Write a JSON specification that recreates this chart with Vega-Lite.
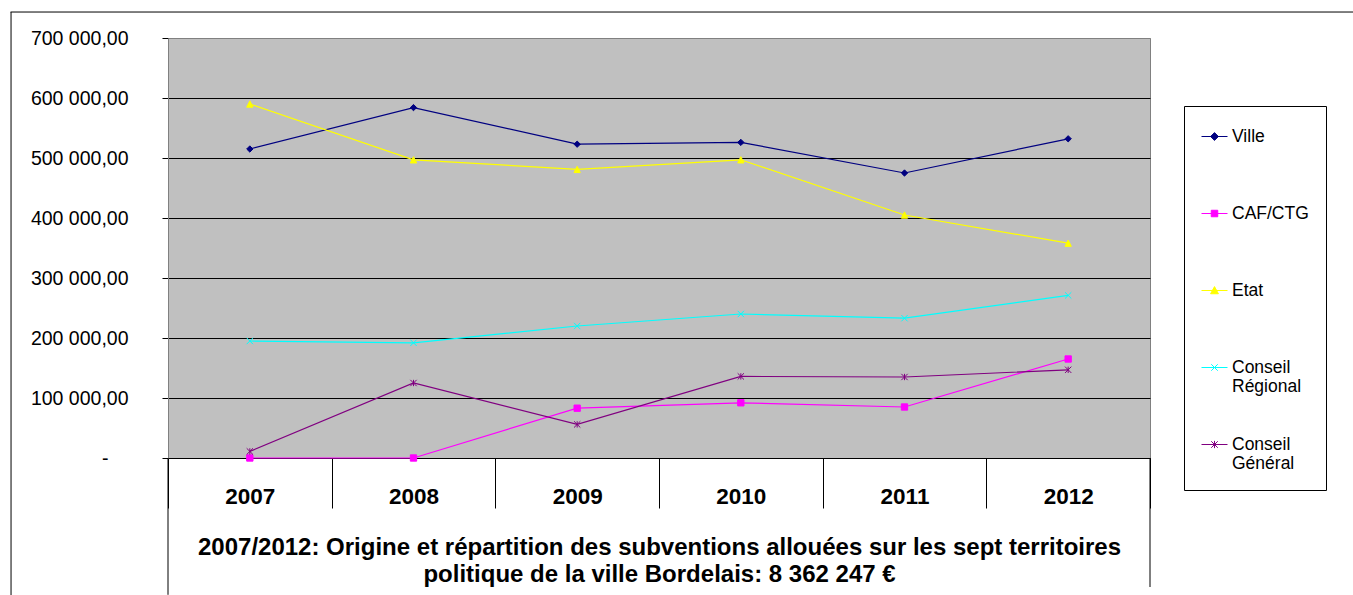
{
  "$schema": "https://vega.github.io/schema/vega-lite/v6.json",
  "width": 982,
  "height": 420,
  "autosize": {"type": "none"},
  "padding": {"left": 168, "top": 38, "right": 203, "bottom": 137},
  "background": "white",
  "config": {
    "font": "Liberation Sans",
    "view": {"fill": "#C0C0C0", "stroke": "#808080", "strokeWidth": 1}
  },
  "data": {
    "values": [
      {"year": "2007", "series": "Ville", "value": 515000},
      {"year": "2008", "series": "Ville", "value": 584000},
      {"year": "2009", "series": "Ville", "value": 523000},
      {"year": "2010", "series": "Ville", "value": 526000},
      {"year": "2011", "series": "Ville", "value": 475000},
      {"year": "2012", "series": "Ville", "value": 532000},
      {"year": "2007", "series": "CAF/CTG", "value": 0},
      {"year": "2008", "series": "CAF/CTG", "value": 0},
      {"year": "2009", "series": "CAF/CTG", "value": 83000},
      {"year": "2010", "series": "CAF/CTG", "value": 92000},
      {"year": "2011", "series": "CAF/CTG", "value": 85000},
      {"year": "2012", "series": "CAF/CTG", "value": 165000},
      {"year": "2007", "series": "Etat", "value": 590000},
      {"year": "2008", "series": "Etat", "value": 497000},
      {"year": "2009", "series": "Etat", "value": 481000},
      {"year": "2010", "series": "Etat", "value": 497000},
      {"year": "2011", "series": "Etat", "value": 405000},
      {"year": "2012", "series": "Etat", "value": 358000},
      {"year": "2007", "series": "Conseil Régional", "value": 195000},
      {"year": "2008", "series": "Conseil Régional", "value": 192000},
      {"year": "2009", "series": "Conseil Régional", "value": 220000},
      {"year": "2010", "series": "Conseil Régional", "value": 240000},
      {"year": "2011", "series": "Conseil Régional", "value": 233000},
      {"year": "2012", "series": "Conseil Régional", "value": 271000},
      {"year": "2007", "series": "Conseil Général", "value": 11000},
      {"year": "2008", "series": "Conseil Général", "value": 125000},
      {"year": "2009", "series": "Conseil Général", "value": 56000},
      {"year": "2010", "series": "Conseil Général", "value": 136000},
      {"year": "2011", "series": "Conseil Général", "value": 135000},
      {"year": "2012", "series": "Conseil Général", "value": 147000}
    ]
  },
  "layer": [
    {
      "mark": {"type": "line", "strokeWidth": 1.2},
      "encoding": {
        "x": {
          "field": "year", "type": "ordinal", "bandPosition": 0.5,
          "scale": {"type": "band", "paddingInner": 0, "paddingOuter": 0},
          "axis": {
            "title": ["2007/2012: Origine et répartition des subventions allouées sur les sept territoires", "politique de la ville Bordelais: 8 362 247 €"],
            "titleFontSize": 24, "titleFontWeight": "bold", "titleColor": "black",
            "titlePadding": 27, "titleLineHeight": 27,
            "labelFontSize": 22.5, "labelFontWeight": "bold", "labelColor": "black",
            "labelPadding": -23, "labelAngle": 0,
            "tickBand": "extent", "tickSize": 50, "tickColor": "black",
            "domainColor": "black", "grid": false
          }
        },
        "y": {
          "field": "value", "type": "quantitative",
          "scale": {"domain": [0, 700000], "nice": false},
          "axis": {
            "title": null,
            "values": [0, 100000, 200000, 300000, 400000, 500000, 600000, 700000],
            "labelExpr": "datum.value == 0 ? '-' : format(datum.value/1000, 'd') + ' 000,00'",
            "labelFontSize": 19.5, "labelColor": "black",
            "labelPadding": {"condition": {"test": "datum.value == 0", "value": 54}, "value": 34},
            "tickSize": 6, "tickColor": "black",
            "grid": true,
            "gridColor": {"condition": {"test": "datum.value == 700000", "value": "#808080"}, "value": "black"},
            "gridOpacity": 1,
            "domainColor": "#808080"
          }
        },
        "color": {
          "field": "series", "type": "nominal",
          "scale": {
            "domain": ["Ville", "CAF/CTG", "Etat", "Conseil Régional", "Conseil Général"],
            "range": ["#000080", "#FF00FF", "#FFFF00", "#00FFFF", "#800080"]
          },
          "legend": {
            "orient": "none", "legendX": 1016, "legendY": 68,
            "title": null, "strokeColor": "black", "fillColor": "white",
            "padding": 17, "labelFontSize": 17.5, "labelColor": "black",
            "labelOffset": 4, "symbolSize": 676, "rowPadding": 35,
            "symbolOpacity": 1, "symbolStrokeWidth": 1,
            "gridAlign": "all", "labelLimit": 300,
            "labelExpr": "split(datum.label, ' ')"
          }
        }
      }
    },
    {
      "mark": {"type": "point", "filled": true, "size": 40, "opacity": 1, "strokeWidth": 1},
      "encoding": {
        "x": {"field": "year", "type": "ordinal", "bandPosition": 0.5},
        "y": {"field": "value", "type": "quantitative"},
        "color": {"field": "series", "type": "nominal"},
        "stroke": {
          "field": "series", "type": "nominal", "legend": null,
          "scale": {
            "domain": ["Ville", "CAF/CTG", "Etat", "Conseil Régional", "Conseil Général"],
            "range": ["#000080", "#FF00FF", "#FFFF00", "#00FFFF", "#800080"]
          }
        },
        "shape": {
          "condition": [
            {"test": "datum.series == 'Ville'", "value": "M0,-1L1,0L0,1L-1,0Z"},
            {"test": "datum.series == 'CAF/CTG'", "value": "M-1,-1L1,-1L1,1L-1,1Z"},
            {"test": "datum.series == 'Etat'", "value": "M0,-1L1,1L-1,1Z"},
            {"test": "datum.series == 'Conseil Régional'", "value": "M-1,-1L1,1M-1,1L1,-1"}
          ],
          "value": "M-1,-1L1,1M-1,1L1,-1M0,-1L0,1"
        }
      }
    },
    {
      "transform": [{"filter": "datum.value < 0"}],
      "mark": {"type": "point", "filled": true, "strokeWidth": 1},
      "encoding": {
        "x": {"field": "year", "type": "ordinal", "bandPosition": 0.5},
        "y": {"field": "value", "type": "quantitative"},
        "color": {"field": "series", "type": "nominal"},
        "shape": {
          "field": "series", "type": "nominal",
          "scale": {
            "domain": ["Ville", "CAF/CTG", "Etat", "Conseil Régional", "Conseil Général"],
            "range": [
              "M-1,0L1,0M0,-0.3L0.3,0L0,0.3L-0.3,0Z",
              "M-1,0L1,0M-0.25,-0.25L0.25,-0.25L0.25,0.25L-0.25,0.25Z",
              "M-1,0L1,0M0,-0.3L0.3,0.25L-0.3,0.25Z",
              "M-1,0L1,0M-0.25,-0.25L0.25,0.25M-0.25,0.25L0.25,-0.25",
              "M-1,0L1,0M-0.25,-0.25L0.25,0.25M-0.25,0.25L0.25,-0.25M0,-0.28L0,0.28"
            ]
          },
          "legend": {
            "orient": "none", "legendX": 1016, "legendY": 68,
            "title": null, "strokeColor": "black", "fillColor": "white",
            "padding": 17, "labelFontSize": 17.5, "labelColor": "black",
            "labelOffset": 4, "symbolSize": 676, "rowPadding": 35,
            "symbolOpacity": 1, "symbolStrokeWidth": 1,
            "gridAlign": "all", "labelLimit": 300,
            "labelExpr": "split(datum.label, ' ')"
          }
        }
      }
    },
    {
      "data": {"values": [{"year": "2007", "top": 0, "bottom": -228000}]},
      "mark": {"type": "rule", "color": "black", "strokeWidth": 1},
      "encoding": {
        "x": {"field": "year", "type": "ordinal", "bandPosition": 0},
        "y": {"field": "top", "type": "quantitative"},
        "y2": {"field": "bottom"}
      }
    },
    {
      "data": {"values": [{"year": "2012", "top": 0, "bottom": -215000}]},
      "mark": {"type": "rule", "color": "black", "strokeWidth": 1},
      "encoding": {
        "x": {"field": "year", "type": "ordinal", "bandPosition": 1},
        "y": {"field": "top", "type": "quantitative"},
        "y2": {"field": "bottom"}
      }
    },
    {
      "data": {"values": [{"year": "2007", "top": 743300, "bottom": -230000}]},
      "mark": {"type": "rule", "color": "black", "strokeWidth": 1},
      "encoding": {
        "x": {"field": "year", "type": "ordinal", "bandPosition": -0.959},
        "y": {"field": "top", "type": "quantitative"},
        "y2": {"field": "bottom"}
      }
    },
    {
      "data": {"values": [{"from": "2007", "to": "2012", "level": 743300}]},
      "mark": {"type": "rule", "color": "black", "strokeWidth": 1},
      "encoding": {
        "x": {"field": "from", "type": "ordinal", "bandPosition": -0.962},
        "x2": {"field": "to", "bandPosition": 2.3},
        "y": {"field": "level", "type": "quantitative"}
      }
    }
  ]
}
